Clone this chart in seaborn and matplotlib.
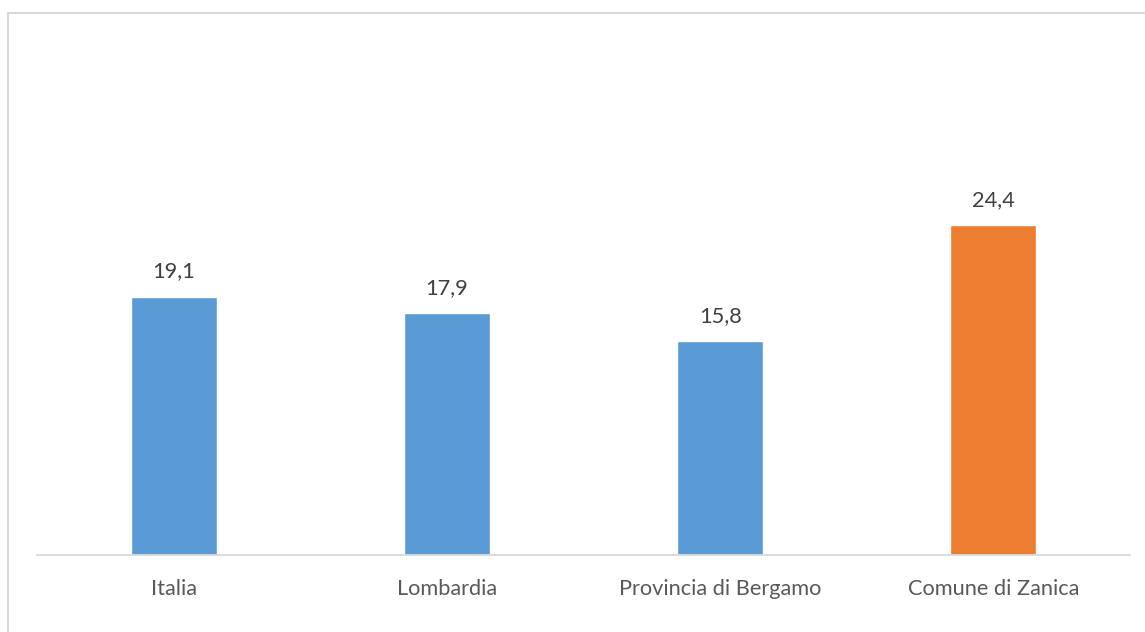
import matplotlib
matplotlib.use("Agg")
import matplotlib.pyplot as plt
from matplotlib.patches import Rectangle
import seaborn as sns
import pandas as pd

categories = ["Italia", "Lombardia", "Provincia di Bergamo", "Comune di Zanica"]
values = [19.1, 17.9, 15.8, 24.4]
value_labels = ["19,1", "17,9", "15,8", "24,4"]
bar_colors = ["#5B9BD5", "#5B9BD5", "#5B9BD5", "#ED7D31"]

sns.set_style("white")
plt.rcParams["font.family"] = ["Lato", "DejaVu Sans"]

W, H = 1145, 632
fig = plt.figure(figsize=(W / 100, H / 100), dpi=100)
ax = fig.add_axes([37 / W, (H - 555) / H, (1130 - 37) / W, (555 - 149) / H])

df = pd.DataFrame({"cat": categories, "val": values})
sns.barplot(data=df, x="cat", y="val", hue="cat", palette=bar_colors,
            width=0.315, legend=False, ax=ax, saturation=1)

ax.set_ylim(0, 30)
ax.set_xlim(-0.5, len(categories) - 0.5)
for s in ["top", "right", "left"]:
    ax.spines[s].set_visible(False)
ax.spines["bottom"].set_color("#d9d9d9")
ax.spines["bottom"].set_linewidth(1.3)
ax.set_yticks([])
ax.set_xlabel("")
ax.set_ylabel("")
ax.tick_params(axis="x", length=0, pad=17, labelsize=15.7, labelcolor="#595959")

for i, (v, lab) in enumerate(zip(values, value_labels)):
    ax.annotate(lab, (i, v), xytext=(0, 18), textcoords="offset points",
                ha="center", va="center", fontsize=15.7, color="#404040")

# chart frame
fig.patches.append(Rectangle((8 / W, -0.1), 1.2, (H - 13) / H + 0.1,
                             transform=fig.transFigure, fill=False,
                             edgecolor="#d9d9d9", linewidth=1.5))

fig.savefig("out.png", dpi=100, facecolor="white")
